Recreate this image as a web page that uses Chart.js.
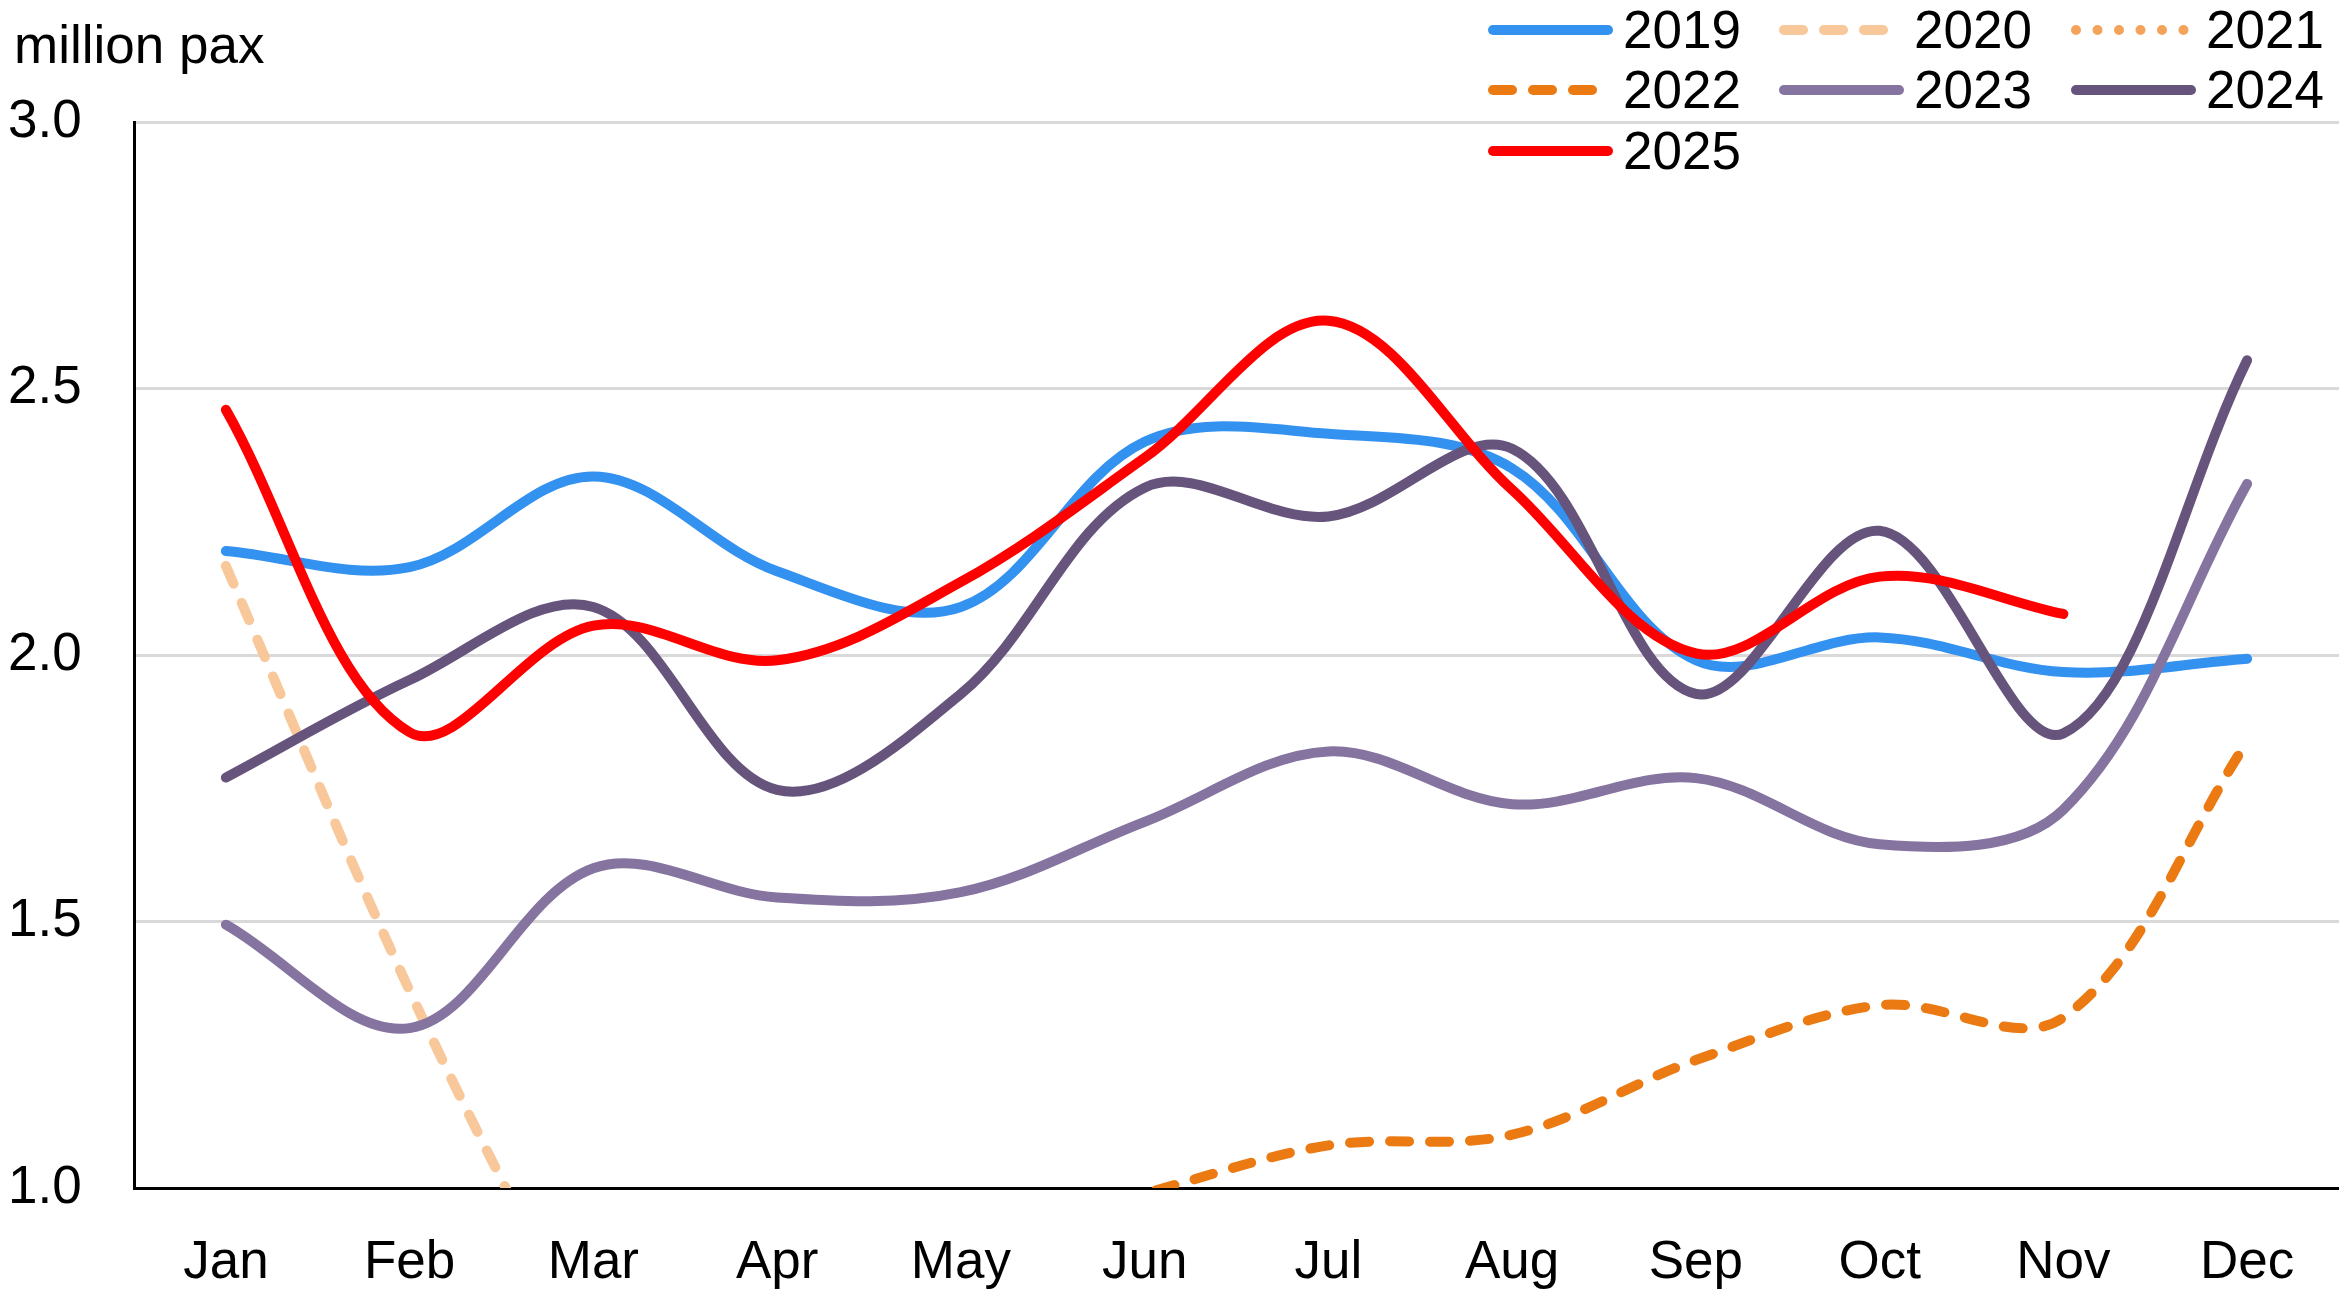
<!DOCTYPE html>
<html>
<head>
<meta charset="utf-8">
<script src="https://cdn.jsdelivr.net/npm/chart.js@4/dist/chart.umd.min.js"></script>
<style>
  html, body { margin: 0; padding: 0; background: #fff; }
  #wrap { width: 2339px; height: 1299px; position: relative; }
</style>
</head>
<body>
<div id="wrap"><canvas id="c"></canvas></div>
<script>
const months = ['Jan','Feb','Mar','Apr','May','Jun','Jul','Aug','Sep','Oct','Nov','Dec'];
const unitLabel = 'million pax';
const yTicks = [1.0, 1.5, 2.0, 2.5, 3.0];

const seriesNames = ['2019','2020','2021','2022','2023','2024','2025'];
const v2019 = [2.195, 2.165, 2.335, 2.157, 2.09, 2.40, 2.415, 2.35, 1.99, 2.033, 1.968, 1.993];
const v2020 = [2.167, 1.37, 0.68, 0.03, 0.05, 0.15, 0.30, 0.40, 0.35, 0.35, 0.30, 0.30];
const v2021 = [0.25, 0.20, 0.30, 0.30, 0.35, 0.50, 0.75, 0.85, 0.80, 0.85, 0.85, 0.80];
const v2022 = [0.60, 0.60, 0.70, 0.80, 0.90, 0.99, 1.08, 1.10, 1.24, 1.343, 1.32, 1.837];
const v2023 = [1.494, 1.30, 1.60, 1.545, 1.555, 1.687, 1.819, 1.72, 1.769, 1.645, 1.71, 2.321];
const v2024 = [1.77, 1.953, 2.09, 1.747, 1.927, 2.314, 2.26, 2.387, 1.927, 2.233, 1.853, 2.553];
const v2025 = [2.46, 1.855, 2.055, 1.99, 2.137, 2.37, 2.627, 2.31, 2.003, 2.147, 2.077, null];

const seriesValues = [v2019, v2020, v2021, v2022, v2023, v2024, v2025];
const seriesColors = ['#3391f0', '#f8c89b', '#f4a35a', '#eb7a12', '#8573a0', '#66547c', '#ff0000'];
const seriesDash = [[], [19, 21], [0, 21.5], [19, 21], [], [], []];

const FONT = "'Liberation Sans', Arial, sans-serif";
const FS = 53;
Chart.defaults.font.family = FONT;
Chart.defaults.font.size = FS;
Chart.defaults.color = '#000';

const LW = 10;
const legendX = [1488, 1779, 2071];
const legendRowY = [30, 90, 151];

const overlay = {
  id: 'overlay',
  afterDraw(chart) {
    const ctx = chart.ctx;
    ctx.save();
    ctx.font = FS + 'px ' + FONT;
    ctx.fillStyle = '#000';
    ctx.textBaseline = 'alphabetic';
    ctx.textAlign = 'left';
    ctx.fillText(unitLabel, 14, 63);
    chart.data.datasets.forEach((ds, i) => {
      const col = i % 3, row = Math.floor(i / 3);
      const x0 = legendX[col], y = legendRowY[row];
      ctx.beginPath();
      ctx.lineWidth = LW;
      ctx.lineCap = 'round';
      ctx.strokeStyle = ds.borderColor;
      ctx.setLineDash(ds.borderDash || []);
      ctx.moveTo(x0 + 5, y);
      ctx.lineTo(x0 + 120, y);
      ctx.stroke();
      ctx.setLineDash([]);
      ctx.fillStyle = '#000';
      ctx.fillText(ds.label, x0 + 135, y + 18);
    });
    ctx.restore();
  }
};

const datasets = seriesNames.map((name, i) => ({
  label: name,
  data: seriesValues[i],
  borderColor: seriesColors[i],
  backgroundColor: seriesColors[i],
  borderWidth: LW,
  borderDash: seriesDash[i],
  borderCapStyle: 'round',
  borderJoinStyle: 'round',
  pointRadius: 0,
  pointHoverRadius: 0,
  tension: 0.35,
  fill: false,
  spanGaps: false,
  order: seriesNames.length - i
}));

new Chart(document.getElementById('c'), {
  type: 'line',
  data: { labels: months, datasets },
  options: {
    responsive: true,
    maintainAspectRatio: false,
    devicePixelRatio: 1,
    animation: false,
    events: [],
    layout: { padding: { top: 122, left: 8, right: 0, bottom: 0 } },
    plugins: { legend: { display: false }, tooltip: { enabled: false }, title: { display: false } },
    scales: {
      x: {
        offset: true,
        grid: { display: false, drawTicks: false },
        border: { display: true, color: '#000', width: 3 },
        ticks: { padding: 44, maxRotation: 0, autoSkip: false, font: { size: FS } },
        afterFit(scale) { scale.height = 1299 - 1188; }
      },
      y: {
        min: 1.0,
        max: 3.0,
        afterBuildTicks(scale) { scale.ticks = yTicks.map(v => ({ value: v })); },
        grid: { color: '#d9d9d9', lineWidth: 3, drawTicks: false },
        border: { display: true, color: '#000', width: 3 },
        ticks: {
          crossAlign: 'far',
          padding: 0,
          font: { size: FS },
          callback: v => Number(v).toFixed(1)
        },
        afterFit(scale) { scale.width = 126; }
      }
    }
  },
  plugins: [overlay]
});
</script>
</body>
</html>
